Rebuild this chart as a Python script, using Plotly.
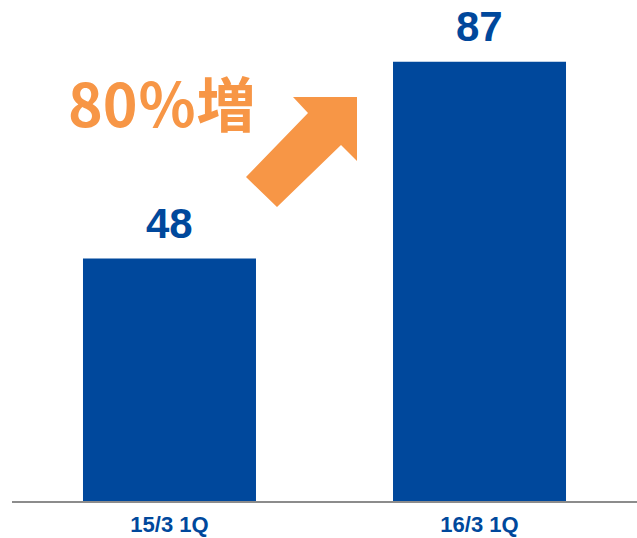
import plotly.graph_objects as go

categories = ["15/3 1Q", "16/3 1Q"]
values = [48, 87]
growth_label = "80％増"

BAR = "#00489C"
ORANGE = "#F79646"

W, H = 637, 538
ml, mr, mt, mb = 12, 0, 0, 37

fig = go.Figure()
fig.add_trace(go.Bar(
    x=[0, 1], y=values, width=0.558, marker=dict(color=BAR, line=dict(width=0)),
    hoverinfo="skip",
))

for i, v in enumerate(values):
    fig.add_annotation(x=i, y=v, text=f"<b>{v}</b>", showarrow=False,
                       yanchor="bottom", yshift=10,
                       font=dict(family="Liberation Sans, Arial", size=42, color=BAR))

pw, ph = W - ml - mr, H - mt - mb
def px(x, y):
    return (x - ml) / pw, 1 - (y - mt) / ph

pts = [(246, 177), (308, 113), (293, 97), (357, 97), (357, 161), (341, 145), (277, 207)]
path = "M " + " L ".join(f"{px(x, y)[0]:.4f},{px(x, y)[1]:.4f}" for x, y in pts) + " Z"
fig.add_shape(type="path", path=path, xref="paper", yref="paper",
              fillcolor=ORANGE, line=dict(width=0))

tx, ty = px(161.5, 101)
fig.add_annotation(x=tx, y=ty, xref="paper", yref="paper", text=f"<b>{growth_label}</b>",
                   showarrow=False, xanchor="center", yanchor="middle",
                   font=dict(family="Noto Sans CJK JP", size=59, color=ORANGE))

fig.update_layout(
    width=W, height=H, margin=dict(l=ml, r=mr, t=mt, b=mb),
    plot_bgcolor="white", paper_bgcolor="white", showlegend=False,
    xaxis=dict(range=[-0.508, 1.508], tickvals=[0, 1], ticktext=[f"<b>{c}</b>" for c in categories],
               showgrid=False, zeroline=False, showline=True, linecolor="#8C8C8C", linewidth=2,
               ticks="", tickfont=dict(family="Liberation Sans, Arial", size=22, color=BAR),
               ticklabelstandoff=3, fixedrange=True),
    yaxis=dict(range=[0, (H - mb) / 5.05], visible=False, fixedrange=True),
)

fig.write_html("out.html", config={"displayModeBar": False},
               post_script="document.body.style.margin='0';document.body.style.overflow='hidden';")
